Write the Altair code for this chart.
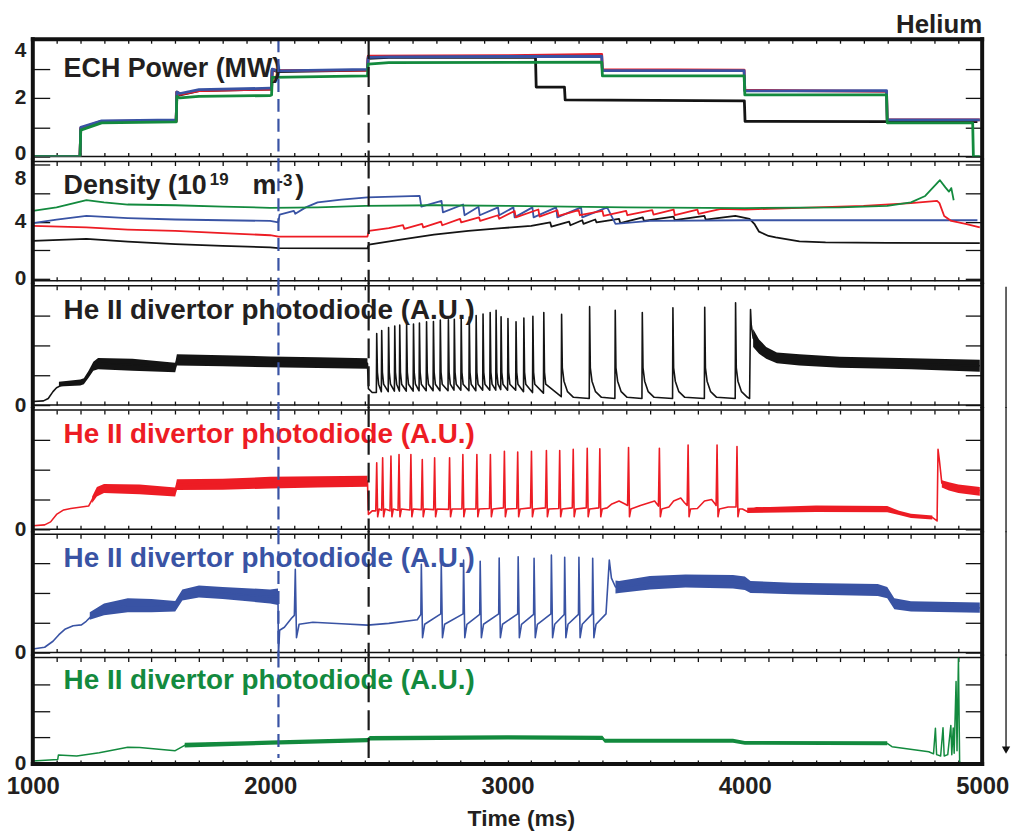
import altair as alt
import pandas as pd

FONT = "Liberation Sans, Arial, Helvetica, sans-serif"
C_BLACK = "#141414"
C_RED = "#ed1c24"
C_BLUE = "#3953a4"
C_GREEN = "#138a3e"
C_TEXT = "#231f20"

# ---------------- shared time axis ----------------
T_MIN, T_MAX = 1000, 5000
X_TICKS = list(range(1000, 5001, 100))
X_LABELS = [1000, 2000, 3000, 4000, 5000]
EVENT_BLUE_T = [2035]
EVENT_BLACK_T = [2415]

# ---------------- panel 1 : ECH power (MW) ----------------
ECH_BLACK = [(1000, 0), (1199, 0), (1202, 0.95), (1290, 1.2), (1604, 1.2), (1607, 2.2), (1620, 2.1),
             (1700, 2.25), (2000, 2.3), (2005, 2.3), (2008, 2.95), (2030, 2.9), (2410, 2.95), (2413, 3.35),
             (2500, 3.38), (3118, 3.38), (3121, 2.37), (3240, 2.37), (3243, 1.93), (3998, 1.9), (4001, 1.2),
             (4600, 1.19), (4980, 1.19)]
ECH_RED = [(1000, 0), (1199, 0), (1202, 0.97), (1290, 1.2), (1604, 1.22), (1607, 2.2), (1620, 2.12),
           (1700, 2.25), (2000, 2.3), (2006, 2.3), (2009, 2.97), (2030, 2.93), (2410, 2.95), (2413, 3.42),
           (3000, 3.44), (3397, 3.48), (3400, 2.96), (3997, 2.95), (4000, 2.26), (4597, 2.22), (4600, 1.26),
           (4990, 1.25)]
ECH_BLUE = [(1000, 0), (1199, 0), (1202, 1.0), (1290, 1.22), (1604, 1.25), (1607, 2.2), (1620, 2.15),
            (1700, 2.28), (2000, 2.33), (2006, 2.33), (2009, 2.98), (2030, 2.92), (2410, 2.97), (2413, 3.38),
            (2500, 3.4), (3397, 3.42), (3400, 2.93), (3997, 2.93), (4000, 2.24), (4597, 2.25), (4600, 1.25),
            (4990, 1.25)]
ECH_GREEN = [(1000, 0), (1199, 0), (1202, 0.9), (1290, 1.15), (1604, 1.18), (1607, 2.05), (1620, 2.0),
             (1700, 2.05), (2000, 2.08), (2006, 2.1), (2009, 2.7), (2410, 2.75), (2413, 3.15), (2500, 3.2),
             (3397, 3.22), (3400, 2.75), (3997, 2.75), (4000, 2.1), (4597, 2.1), (4600, 1.15), (4960, 1.15),
             (4963, 0), (4990, 0)]

# ---------------- panel 2 : density (1e19 m^-3) ----------------
NE_BLACK = [(1000, 2.66), (1226, 2.8), (1400, 2.6), (1600, 2.43), (1800, 2.3), (2000, 2.2), (2035, 2.15),
            (2410, 2.13), (2416, 2.4), (2550, 2.75), (2690, 3.1), (2835, 3.35), (2975, 3.55), (3100, 3.7),
            (3180, 3.95), (3185, 3.65), (3260, 4.0), (3265, 3.75), (3315, 4.1), (3320, 3.85), (3370, 4.15),
            (3375, 3.95), (3470, 4.2), (3475, 3.9), (3570, 4.3), (3575, 4.05), (3700, 4.35), (3705, 4.1),
            (3830, 4.4), (3835, 4.15), (3960, 4.4), (4020, 4.2), (4040, 3.85), (4060, 3.3), (4100, 3.0),
            (4130, 2.9), (4230, 2.62), (4340, 2.55), (4600, 2.52), (4990, 2.5)]
NE_RED = [(1000, 3.7), (1226, 3.6), (1400, 3.45), (1600, 3.35), (1800, 3.2), (2000, 3.05), (2035, 2.96),
          (2410, 2.96), (2416, 3.35), (2500, 3.55), (2560, 3.75), (2565, 3.5), (2640, 3.85), (2645, 3.6),
          (2720, 4.0), (2725, 3.75), (2800, 4.2), (2805, 3.95), (2880, 4.3), (2885, 4.05), (2960, 4.45),
          (2965, 4.2), (3030, 4.75), (3035, 4.3), (3130, 4.85), (3135, 4.35), (3210, 4.8), (3215, 4.4),
          (3300, 4.8), (3305, 4.45), (3400, 4.75), (3405, 4.4), (3500, 4.75), (3505, 4.45), (3610, 4.8),
          (3615, 4.5), (3700, 4.85), (3705, 4.45), (3800, 4.85), (3805, 4.55), (3900, 4.9), (4000, 4.85),
          (4100, 4.9), (4300, 5.0), (4500, 5.1), (4700, 5.3), (4810, 5.45), (4820, 5.3), (4840, 4.4),
          (4870, 4.05), (4930, 3.85), (4990, 3.6)]
NE_BLUE = [(1000, 3.9), (1100, 4.15), (1226, 4.4), (1400, 4.25), (1600, 4.15), (1800, 4.1), (2000, 4.05),
           (2034, 3.95), (2040, 4.5), (2100, 4.75), (2106, 4.55), (2150, 5.0), (2200, 5.35), (2300, 5.55),
           (2410, 5.7), (2630, 5.8), (2637, 5.05), (2722, 5.45), (2728, 4.65), (2813, 5.2), (2819, 4.45),
           (2878, 5.05), (2883, 4.45), (2960, 5.0), (2965, 4.45), (3025, 5.0), (3030, 4.3), (3105, 5.0),
           (3110, 4.3), (3205, 5.0), (3210, 4.3), (3310, 5.0), (3315, 4.3), (3420, 5.0), (3455, 3.85),
           (3600, 4.05), (4000, 4.1), (4500, 4.1), (4980, 4.1)]
NE_GREEN = [(1000, 4.75), (1100, 5.0), (1226, 5.5), (1300, 5.35), (1400, 5.2), (1600, 5.15), (1800, 5.05),
            (2000, 4.97), (2200, 5.0), (2400, 5.1), (2700, 5.15), (3000, 5.1), (3500, 5.0), (4000, 4.95),
            (4400, 5.0), (4600, 5.1), (4700, 5.35), (4760, 5.8), (4822, 6.9), (4845, 6.4), (4860, 6.1),
            (4870, 6.35), (4880, 5.5)]

# ---------------- panel 3 : He II photodiode, black shot ----------------
P3_PRE = [(1000, 0.12), (1045, 0.14), (1065, 0.22), (1085, 0.45), (1100, 0.58), (1120, 0.66), (1200, 0.76),
          (1215, 0.8), (1235, 1.05), (1255, 1.3), (1275, 1.4), (1420, 1.35), (1600, 1.27), (1607, 1.5),
          (1800, 1.48), (2000, 1.45), (2200, 1.42), (2410, 1.4), (2414, 0.55), (2430, 0.42)]
P3_BAND = [[(1110, 0.62, 0.78), (1200, 0.66, 0.86), (1215, 0.7, 0.9), (1235, 0.92, 1.15), (1255, 1.15, 1.45),
            (1275, 1.2, 1.58), (1420, 1.15, 1.55), (1600, 1.1, 1.42), (1607, 1.33, 1.7), (1800, 1.3, 1.67),
            (2000, 1.27, 1.63), (2200, 1.24, 1.6), (2410, 1.22, 1.57)],
           [(4035, 1.95, 2.55), (4060, 1.72, 2.2), (4090, 1.55, 1.95), (4135, 1.4, 1.76), (4230, 1.33, 1.7),
            (4400, 1.25, 1.62), (4700, 1.2, 1.57), (4990, 1.12, 1.52)]]
P3_DENSE_T = [2449, 2470, 2499, 2525, 2546, 2575, 2604, 2629, 2659, 2688, 2717, 2751, 2776, 2805, 2839,
              2868, 2897, 2927, 2952, 2973, 3002, 3036, 3069, 3107, 3153]
P3_DENSE_PEAK = [2.4, 2.5, 2.6, 2.65, 2.68, 2.7, 2.72, 2.75, 2.79, 2.8, 2.85, 2.86, 2.88, 2.9, 2.95, 3.0,
                 3.05, 3.1, 3.18, 2.96, 2.9, 2.79, 2.92, 2.98, 3.1]
P3_DENSE_FLOOR = [0.42, 0.45, 0.45, 0.47, 0.47, 0.47, 0.47, 0.48, 0.48, 0.48, 0.48, 0.48, 0.5, 0.5, 0.48,
                  0.48, 0.5, 0.5, 0.5, 0.52, 0.5, 0.5, 0.45, 0.42, 0.4]
P3_DENSE_TAIL = [(3, 1.1), (8, 0.7)]
P3_SPARSE_T = [3228, 3346, 3454, 3568, 3697, 3831, 3961]
P3_SPARSE_PEAK = [3.04, 3.3, 3.18, 3.1, 3.26, 3.28, 3.43]
P3_SPARSE_FLOOR = [0.28, 0.22, 0.22, 0.22, 0.22, 0.22, 0.22]
P3_SPARSE_TAIL = [(3, 1.25), (10, 0.8), (25, 0.45), (50, 0.26)]
P3_POST = [(4020, 0.22), (4024, 3.2), (4027, 2.7), (4035, 2.25), (4060, 1.95), (4090, 1.75), (4135, 1.58),
           (4230, 1.5), (4400, 1.44), (4700, 1.38), (4990, 1.32)]

# ---------------- panel 4 : He II photodiode, red shot ----------------
P4_PRE = [(1000, 0.12), (1050, 0.15), (1075, 0.25), (1100, 0.5), (1130, 0.65), (1160, 0.7), (1235, 0.78),
          (1250, 1.0), (1270, 1.25), (1300, 1.37), (1450, 1.34), (1600, 1.25), (1607, 1.5), (1800, 1.52),
          (2000, 1.56), (2200, 1.59), (2410, 1.62), (2414, 0.5), (2430, 0.62)]
P4_BAND = [[(1250, 0.88, 1.1), (1270, 1.1, 1.42), (1300, 1.22, 1.52), (1450, 1.18, 1.5), (1600, 1.1, 1.4),
            (1607, 1.32, 1.68), (1800, 1.33, 1.7), (2000, 1.37, 1.76), (2200, 1.4, 1.78), (2410, 1.43, 1.8)],
           [(4010, 0.55, 0.72), (4300, 0.58, 0.8), (4600, 0.57, 0.78), (4650, 0.48, 0.62), (4700, 0.38, 0.52),
            (4790, 0.33, 0.46)],
           [(4830, 1.4, 1.65), (4860, 1.3, 1.58), (4900, 1.22, 1.5), (4990, 1.13, 1.42)]]
P4_SPIKE_T = [2449, 2474, 2509, 2543, 2593, 2641, 2693, 2756, 2812, 2871, 2928, 2987, 3043, 3101, 3164,
              3220, 3277, 3336, 3389, 3510, 3640, 3761, 3883, 3967]
P4_SPIKE_PEAK = [2.23, 2.4, 2.46, 2.51, 2.51, 2.34, 2.4, 2.4, 2.51, 2.51, 2.51, 2.62, 2.59, 2.62, 2.64,
                 2.64, 2.68, 2.72, 2.7, 2.74, 2.72, 2.83, 2.83, 2.78]
P4_SPIKE_FLOOR = [0.62, 0.64, 0.62, 0.64, 0.65, 0.66, 0.66, 0.67, 0.68, 0.68, 0.7, 0.72, 0.7, 0.72, 0.72,
                  0.7, 0.72, 0.72, 0.72, 0.8, 0.78, 0.8, 0.8, 0.75]
P4_SPIKE_TAIL = [(4, 0.42), (10, 0.68)]
P4_BUMPS = [(3420, 0.72), (3440, 0.85), (3470, 0.95), (3495, 0.85), (3560, 0.8), (3600, 0.9), (3620, 0.95),
            (3680, 0.75), (3700, 0.95), (3730, 1.05), (3745, 0.9), (3800, 0.7), (3830, 0.95), (3860, 1.0),
            (3875, 0.85), (3930, 0.75)]
P4_POST = [(3990, 0.68), (4010, 0.6), (4050, 0.72), (4300, 0.7), (4600, 0.68), (4650, 0.55), (4700, 0.45),
           (4790, 0.4), (4810, 0.28), (4814, 2.68), (4820, 2.3), (4830, 1.55), (4860, 1.45), (4900, 1.38),
           (4990, 1.3)]

# ---------------- panel 5 : He II photodiode, blue shot ----------------
P5_PRE = [(1000, 0.12), (1050, 0.18), (1085, 0.38), (1110, 0.6), (1135, 0.78), (1170, 0.9), (1205, 0.93),
          (1225, 1.05), (1250, 1.25), (1300, 1.45), (1400, 1.57), (1500, 1.57), (1600, 1.55), (1630, 1.92),
          (1700, 2.05), (1800, 2.0), (2000, 1.87), (2033, 1.88), (2035, -0.1), (2040, 0.75), (2060, 0.85),
          (2090, 1.15), (2102, 1.25), (2106, 2.79), (2111, 0.5), (2122, 0.95), (2180, 1.02), (2300, 0.97),
          (2410, 0.92), (2500, 0.98), (2620, 1.1)]
P5_BAND = [[(1240, 1.1, 1.35), (1300, 1.25, 1.65), (1400, 1.35, 1.82), (1500, 1.35, 1.8), (1600, 1.38, 1.73),
            (1630, 1.75, 2.12), (1700, 1.85, 2.25), (1800, 1.8, 2.2), (2000, 1.65, 2.12), (2033, 1.6, 2.15)],
           [(3455, 1.98, 2.42), (3470, 2.0, 2.4), (3600, 2.12, 2.57), (3750, 2.18, 2.62), (3950, 2.15, 2.6),
            (4000, 2.1, 2.55), (4024, 2.0, 2.4), (4200, 1.96, 2.34), (4560, 1.9, 2.3), (4600, 1.82, 2.2),
            (4630, 1.45, 1.82), (4700, 1.38, 1.72), (4990, 1.34, 1.68)]]
P5_SPIKE_T = [2637, 2721, 2815, 2885, 2965, 3045, 3112, 3185, 3241, 3301, 3359]
P5_SPIKE_PEAK = [2.96, 2.99, 3.1, 3.06, 3.17, 3.21, 3.16, 3.27, 3.2, 3.2, 3.16]
P5_SPIKE_FLOOR = [1.28, 1.3, 1.3, 1.28, 1.3, 1.3, 1.28, 1.3, 1.28, 1.28, 1.3]
P5_SPIKE_TAIL = [(5, 0.5), (14, 0.95)]
P5_POST = [(3415, 1.3), (3429, 3.1), (3438, 2.5), (3455, 2.2), (3470, 2.18), (3600, 2.35), (3750, 2.4),
           (3950, 2.38), (4000, 2.33), (4024, 2.2), (4200, 2.15), (4560, 2.1), (4600, 2.02), (4630, 1.65),
           (4700, 1.55), (4990, 1.5)]

# ---------------- panel 6 : He II photodiode, green shot ----------------
P6_LINE = [(1000, 0.11), (1105, 0.17), (1108, 0.34), (1185, 0.3), (1280, 0.42), (1400, 0.63), (1450, 0.62),
           (1600, 0.5), (1640, 0.7), (1720, 0.76), (2000, 0.8), (2200, 0.85), (2410, 0.9), (2420, 0.95),
           (2700, 1.0), (2970, 1.0), (3200, 1.0), (3400, 0.98), (3410, 0.88), (3950, 0.88), (4000, 0.8),
           (4350, 0.77), (4600, 0.77), (4620, 0.65), (4775, 0.46), (4795, 0.38), (4803, 1.34), (4808, 0.35),
           (4825, 0.3), (4835, 1.36), (4840, 0.3), (4855, 0.35), (4868, 1.45), (4872, 0.35), (4878, 1.35),
           (4882, 0.4), (4890, 3.1), (4894, 0.5), (4900, 3.98), (4905, 0.1), (4910, 0.0), (4930, 0.05)]
P6_BAND = [[(1640, 0.62, 0.8), (2000, 0.72, 0.88), (2410, 0.82, 0.98), (2420, 0.88, 1.05), (3000, 0.92, 1.08),
            (3400, 0.9, 1.06), (3410, 0.8, 0.95), (3950, 0.8, 0.95), (4000, 0.72, 0.86), (4600, 0.7, 0.85)]]

# ---------------- helpers ----------------
W = 955
DUMMY = pd.DataFrame({"a": [0]})
LABEL_SIZE = 27
HE_SIZE = 28


def xs():
    return alt.Scale(domain=[T_MIN, T_MAX], nice=False, zero=False)


def ys(dom):
    return alt.Scale(domain=dom, nice=False, zero=False)


def spike_points(times, peaks, floors, tail, rise=1.5):
    pts = []
    for t, p, f in zip(times, peaks, floors):
        pts.append((t - rise, f))
        pts.append((t, p))
        for dt, v in tail:
            pts.append((t + dt, v))
    return pts


def line(pts, color, width, dom):
    df = pd.DataFrame(pts, columns=["t", "v"])
    df["i"] = range(len(df))
    return alt.Chart(df).mark_line(color=color, strokeWidth=width, clip=True, strokeJoin="round").encode(
        x=alt.X("t:Q", scale=xs(), axis=None),
        y=alt.Y("v:Q", scale=ys(dom), axis=None),
        order="i:Q")


def band(segs, color, dom):
    rows = []
    for k, seg in enumerate(segs):
        for t, lo, hi in seg:
            rows.append((k, t, lo, hi))
    df = pd.DataFrame(rows, columns=["s", "t", "lo", "hi"])
    return alt.Chart(df).mark_area(color=color, clip=True).encode(
        x=alt.X("t:Q", scale=xs(), axis=None),
        y=alt.Y("lo:Q", scale=ys(dom), axis=None),
        y2="hi:Q",
        detail="s:N")


def text(t, color, x, y, size=LABEL_SIZE, align="left"):
    return alt.Chart(DUMMY).mark_text(text=t, color=color, font=FONT, fontSize=size, fontWeight="bold",
                                      align=align, baseline="alphabetic").encode(
        x=alt.value(x), y=alt.value(y))


def vrule(x, y0, y1, w=4, color="#111111"):
    return alt.Chart(DUMMY).mark_rule(color=color, strokeWidth=w).encode(
        x=alt.value(x), y=alt.value(y0), y2=alt.value(y1))


def hrule(y, x0, x1, w=4):
    return alt.Chart(DUMMY).mark_rule(color="#111111", strokeWidth=w).encode(
        y=alt.value(y), x=alt.value(x0), x2=alt.value(x1))


def event_rule(ts, color, dash, y0, y1):
    return alt.Chart(pd.DataFrame({"t": ts})).mark_rule(color=color, strokeDash=dash, strokeWidth=2.2).encode(
        x=alt.X("t:Q", scale=xs(), axis=None), y=alt.value(y0), y2=alt.value(y1))


def axes(dom, yticks, ylab_expr, top_value=None, last=False, bottom_up=False):
    d = pd.DataFrame({"t": [T_MIN], "v": [dom[0]]})
    lb = "middle"
    lo = 0
    if top_value is not None:
        lb = {"condition": {"test": "datum.value === %s" % top_value, "value": "top"}, "value": "middle"}
        lo = {"condition": {"test": "datum.value === %s" % top_value, "value": 3}, "value": 0}
    if bottom_up:
        lo = {"condition": {"test": "datum.value === 0", "value": -3}, "value": 0}
    xkw = dict(orient="bottom", values=X_TICKS, tickSize=4, offset=-4, domain=False, grid=False,
               tickColor="#111111", tickWidth=1.3)
    if last:
        xkw.update(labels=True, labelExpr="datum.value % 1000 === 0 ? format(datum.value, 'd') : ''",
                   labelFontSize=24, labelPadding=11, labelFlush=False, labelOverlap=False,
                   title="Time (ms)", titleFontSize=23, titleX=491, titleY=48, titleBaseline="top")
    else:
        xkw.update(labels=False, title=None)
    left = alt.Chart(d).mark_point(opacity=0).encode(
        x=alt.X("t:Q", scale=xs(), axis=alt.Axis(**xkw)),
        y=alt.Y("v:Q", scale=ys(dom), axis=alt.Axis(
            orient="left", values=yticks, tickSize=17, offset=-17, domain=False, grid=False,
            labelExpr=ylab_expr, labelPadding=7, labelFontSize=21, labelFlush=False, labelOverlap=False,
            labelBaseline=lb, labelOffset=lo, tickColor="#111111", tickWidth=1.3, title=None)))
    right = alt.Chart(d).mark_point(opacity=0).encode(
        x=alt.X("t:Q", scale=xs(), axis=alt.Axis(
            orient="top", values=X_TICKS, tickSize=4, offset=-4, domain=False, grid=False, labels=False,
            tickColor="#111111", tickWidth=1.3, title=None)),
        y=alt.Y("v:Q", scale=ys(dom), axis=alt.Axis(
            orient="right", values=yticks, tickSize=17, offset=-17, domain=False, grid=False, labels=False,
            tickColor="#111111", tickWidth=1.3, title=None)))
    return [left, right]


def panel(h, dom, yticks, ylab_expr, data_layers, deco, top_value=None, last=False, first=False):
    ev_y1 = h - 6 if last else h + 3
    ev_y0 = 0 if first else -3
    layers = list(data_layers) + list(deco) + [
        event_rule(EVENT_BLUE_T, C_BLUE, [13, 7], ev_y0, ev_y1),
        event_rule(EVENT_BLACK_T, "#1a1a1a", [20, 8], ev_y0, ev_y1),
        vrule(0, -3 if not first else -2, h + 3 if not last else h + 2),
        vrule(W, -3 if not first else -2, h + 3 if not last else h + 2),
    ] + axes(dom, yticks, ylab_expr, top_value, last, bottom_up=first)
    if first:
        layers.append(hrule(0, -2, W + 2))
    if last:
        layers.append(hrule(h, -2, W + 2))
    return alt.layer(*layers).resolve_scale(x="independent", y="independent").properties(width=W, height=h)


LAB_0 = "datum.value === 0 ? '0' : ''"

# panel 1
D1 = [0, 4]
p1 = panel(118, D1, [0, 1, 2, 3, 4], "datum.value % 2 === 0 ? format(datum.value, 'd') : ''", [
    line(ECH_BLACK, C_BLACK, 2.8, D1), line(ECH_RED, C_RED, 2.8, D1),
    line(ECH_BLUE, C_BLUE, 2.8, D1), line(ECH_GREEN, C_GREEN, 2.8, D1)],
    [text("ECH Power (MW)", C_TEXT, 31, 38), text("Helium", C_TEXT, W, -6, size=26, align="right")],
    top_value=4, first=True)

# panel 2
D2 = [-0.14, 8.21]
p2 = panel(120, D2, [0, 2, 4, 6, 8], "datum.value % 4 === 0 ? format(datum.value, 'd') : ''", [
    line(NE_BLACK, C_BLACK, 1.8, D2), line(NE_BLUE, C_BLUE, 1.8, D2),
    line(NE_RED, C_RED, 1.8, D2), line(NE_GREEN, C_GREEN, 1.8, D2)],
    [text("Density (10", C_TEXT, 31, 33), text("19", C_TEXT, 178, 24, size=17),
     text("m", C_TEXT, 221, 33), text("-3", C_TEXT, 246, 25, size=17), text(")", C_TEXT, 264, 33)],
    top_value=8)

# panel 3
D3 = [0, 4]
P3_ALL = (P3_PRE + spike_points(P3_DENSE_T, P3_DENSE_PEAK, P3_DENSE_FLOOR, P3_DENSE_TAIL)
          + spike_points(P3_SPARSE_T, P3_SPARSE_PEAK, P3_SPARSE_FLOOR, P3_SPARSE_TAIL) + P3_POST)
P3_ALL.sort(key=lambda q: q[0])
p3 = panel(120, D3, [0, 1, 2, 3], LAB_0, [band(P3_BAND, C_BLACK, D3), line(P3_ALL, C_BLACK, 1.6, D3)],
           [text("He II divertor photodiode (A.U.)", C_TEXT, 31, 33, size=HE_SIZE),
            vrule(979, 1, 123, w=1.3)])

# panel 4
D4 = [0, 4]
P4_ALL = (P4_PRE + spike_points(P4_SPIKE_T, P4_SPIKE_PEAK, P4_SPIKE_FLOOR, P4_SPIKE_TAIL, rise=4)
          + P4_BUMPS + P4_POST)
P4_ALL.sort(key=lambda q: q[0])
p4 = panel(120, D4, [0, 1, 2, 3], LAB_0, [band(P4_BAND, C_RED, D4), line(P4_ALL, C_RED, 1.6, D4)],
           [text("He II divertor photodiode (A.U.)", C_RED, 31, 33, size=HE_SIZE), vrule(979, -3, 123, w=1.3)])

# panel 5
D5 = [0, 3.967]
P5_ALL = P5_PRE + spike_points(P5_SPIKE_T, P5_SPIKE_PEAK, P5_SPIKE_FLOOR, P5_SPIKE_TAIL, rise=2) + P5_POST
P5_ALL.sort(key=lambda q: q[0])
p5 = panel(119, D5, [0, 1, 2, 3], LAB_0, [band(P5_BAND, C_BLUE, D5), line(P5_ALL, C_BLUE, 1.6, D5)],
           [text("He II divertor photodiode (A.U.)", C_BLUE, 31, 33, size=HE_SIZE), vrule(979, -3, 122, w=1.3)])

# panel 6
D6 = [0, 4]
arrow = alt.Chart(DUMMY).mark_point(shape="triangle-down", filled=True, color="#111111", size=70,
                                    opacity=1).encode(x=alt.value(979), y=alt.value(93))
p6 = panel(107, D6, [0, 1, 2, 3], LAB_0, [band(P6_BAND, C_GREEN, D6), line(P6_LINE, C_GREEN, 1.5, D6)],
           [text("He II divertor photodiode (A.U.)", C_GREEN, 31, 32, size=HE_SIZE), vrule(979, -3, 90, w=1.3),
            arrow],
           last=True)

chart = alt.vconcat(p1, p2, p3, p4, p5, p6, spacing=5, bounds="flush").properties(
    padding={"left": 5, "top": 9, "right": 0, "bottom": 0}, background="white"
).configure_view(stroke="#111111", strokeWidth=1.5).configure_axis(
    labelFont=FONT, labelFontWeight="bold", labelColor=C_TEXT, titleFont=FONT, titleFontWeight="bold",
    titleColor=C_TEXT)

chart.save("out.html", embed_options={"renderer": "svg", "actions": False})
